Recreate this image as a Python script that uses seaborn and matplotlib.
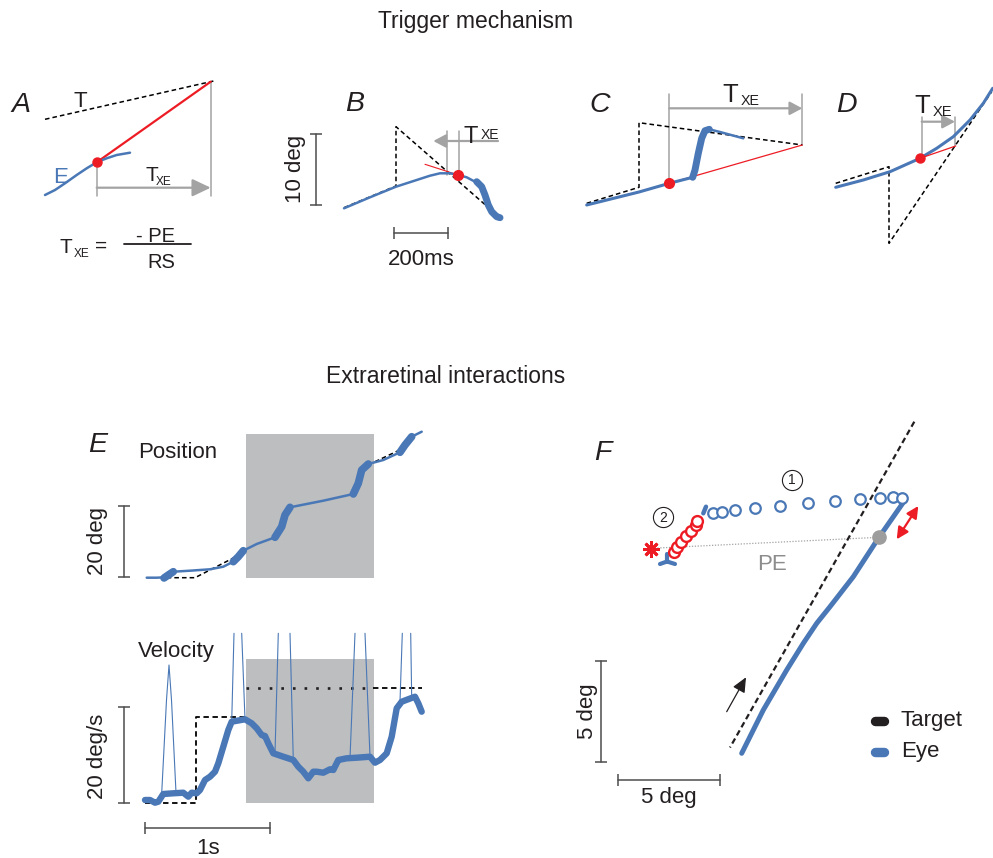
import matplotlib
matplotlib.use("Agg")
import matplotlib.pyplot as plt
from matplotlib.patches import Rectangle, ArrowStyle
import seaborn as sns

# ---------------- data (traced, figure pixel space) ----------------
# Panel A
A_target_x = [45, 215]
A_target_y = [119.3, 80.7]
A_eye_x = [45, 55, 65, 76.7, 86.7, 96.7, 106.7, 116.7, 130]
A_eye_y = [195, 190, 183.3, 175, 168.3, 162.3, 158.3, 155, 152.7]
A_pred_x = [96.7, 210.7]
A_pred_y = [162.3, 81.7]
A_trig = (96.7, 162.3)

# Panel B
B_target_x = [344, 396, 396, 500]
B_target_y = [207.7, 186, 126.7, 217.7]
B_eye_x = [344, 370, 396, 416.7, 430, 440, 450, 458.3, 466.7, 475]
B_eye_y = [208.3, 197.3, 186.7, 180, 175.7, 173.3, 173.3, 175, 177.3, 181.7]
B_sacc_x = [476.7, 481.7, 485, 488.3, 491.7, 496.7, 500]
B_sacc_y = [181.7, 186.7, 195, 205, 211.7, 216.7, 217.7]
B_pred_x = [425, 458.3]
B_pred_y = [164.3, 175]
B_trig = (458.3, 175)

# Panel C
C_target_x = [586.7, 639, 639, 802.3]
C_target_y = [203.3, 187.3, 122.7, 145]
C_eye_x = [586.7, 639, 669.3, 692.7]
C_eye_y = [205, 192, 183.3, 177.3]
C_sacc_x = [692.7, 695, 698.3, 701.7, 705, 709.3]
C_sacc_y = [177.3, 170, 153.3, 138.3, 130.7, 129.3]
C_post_x = [709.3, 720, 743.3]
C_post_y = [129.3, 132, 138.3]
C_pred_x = [669.3, 802.3]
C_pred_y = [183.3, 145]
C_trig = (669.3, 183.3)

# Panel D
D_target_x = [835.7, 889, 889, 991.7]
D_target_y = [183.3, 166.7, 243.3, 91.7]
D_eye_x = [835.7, 863.3, 890, 920, 936.7, 953.3, 970, 983.3, 992.7]
D_eye_y = [187.3, 180, 171.7, 158.3, 148.3, 136.7, 120, 103.3, 88.3]
D_pred_x = [920, 955.7]
D_pred_y = [158.3, 146]
D_trig = (920, 158.3)

# Panel E - position
shade_x = (246, 374)
E_pos_shade_y = (434, 577.7)
E_vel_shade_y = (659, 802.7)
E_pos_x = [146.7, 156.7, 165, 168.3, 173.3, 190, 210, 223.3, 233.3, 238.3, 243.3,
           256.7, 275, 281.7, 285, 290, 323.3, 353.3, 358.3, 361.7, 368.3,
           383.3, 400, 405, 411.7, 421.7]
E_pos_y = [577.7, 577.7, 577.3, 575, 571.7, 570.7, 569.3, 566.7, 561.7, 556.7, 550.7,
           544, 537.3, 526.7, 515, 507.3, 500.7, 494, 483.3, 470, 464,
           460, 452.3, 445, 436.7, 431.7]
E_pos_sacc = [([164, 168.3, 173.3], [578, 575, 571.7]),
              ([233.3, 238.3, 243.3], [561.7, 556.7, 550.7]),
              ([275, 281.7, 285, 290], [537.3, 526.7, 515, 507.3]),
              ([353.3, 358.3, 361.7, 368.3], [494, 483.3, 470, 464]),
              ([400, 405, 411.7], [452.3, 445, 436.7])]
E_pos_target = [([166.7, 195, 243], [577.7, 577.7, 553]),
                ([368, 405], [465, 447.5])]

# Panel E - velocity
E_vel_x = [145, 150, 155, 158.3, 163.3, 173.3, 183.3, 188.3, 191.7, 196.7, 200, 205, 210,
           215, 218.3, 223.3, 228.3, 231.7, 245, 251.7, 256.7, 261.7, 265, 268.3, 273.3,
           283.3, 293.3, 298.3, 303.3, 308.3, 313.3, 316.7, 323.3, 330, 333.3, 338.3,
           341.7, 346.7, 356.7, 370, 375, 380, 386.7, 391.7, 396.7, 401.7, 415, 418.3, 421.7]
E_vel_y = [800, 800, 802.7, 801.7, 794, 793.3, 792.7, 796.7, 792.7, 793.3, 790, 780, 776.7,
           771.7, 763.3, 746.7, 730, 721.7, 719.3, 723.3, 728.3, 735, 736, 743.3, 753.3,
           756.7, 760, 766.7, 771.7, 778.3, 771.7, 771.7, 772.7, 769.3, 770, 760,
           759.3, 758.3, 757.7, 756.7, 762.7, 760, 753.3, 736.7, 708.3, 701.7, 696.7, 703.3, 711.7]
E_vel_spikes = [([161.7, 166.5, 169, 171.5, 176], [793.3, 700, 665, 700, 792.7]),
                ([231.7, 234], [721.7, 633.3]), ([241.7, 245], [633.3, 719.3]),
                ([275, 278.3], [753.3, 633.3]), ([290, 293.3], [633.3, 760]),
                ([350, 355], [758.3, 633.3]), ([365, 370], [633.3, 756.7]),
                ([400, 402.3], [701.7, 633.3]), ([410.7, 411.7], [633.3, 698.3])]
E_vel_target_dash = [([145, 196, 196, 246], [802.7, 802.7, 716.7, 716.7]),
                     ([372.7, 421.7], [688.3, 688.3])]
E_vel_target_dot = ([246, 372.7], [688.3, 688.3])

# Panel F
F_target_x = [914.3, 730]
F_target_y = [421.7, 747.5]
F_eye_x = [905, 878.3, 853.3, 830, 816.7, 803.3, 786.7, 763.3, 741.7]
F_eye_y = [500, 538.3, 576.7, 606.7, 623.3, 643.3, 670, 710, 753.3]
F_blue_circ_x = [712.7, 721.7, 735, 755, 780, 807.7, 835, 860, 880, 893.3, 901.7]
F_blue_circ_y = [512.7, 511.7, 510, 507.7, 505.7, 503.3, 501, 499, 498.3, 497.3, 498.3]
F_red_circ_x = [674, 677.3, 681, 686, 691, 695.7, 697.3]
F_red_circ_y = [551.7, 546.7, 542.3, 536, 530.7, 525, 521]
F_star = (650.7, 549.3)
F_pe_x = [651.7, 879]
F_pe_y = [548.3, 537.3]
F_gray_dot = (879, 537.3)

BLUE = "#4a78b6"
RED = "#ed1c24"
GRAY = "#a3a3a3"
SHADE = "#bcbec0"
INK = "#231f20"
BAR = "#4d4d4d"

# ---------------- figure ----------------
sns.set_theme(style="white")
plt.rcParams["font.family"] = ["Liberation Sans", "DejaVu Sans"]

fig = plt.figure(figsize=(9.93, 8.58), dpi=100)
ax = fig.add_axes([0, 0, 1, 1])
ax.set_xlim(0, 993)
ax.set_ylim(858, 0)
ax.axis("off")


def curve(x, y, lw, color=BLUE, z=3, **kw):
    sns.lineplot(x=x, y=y, sort=False, estimator=None, ax=ax, color=color,
                 linewidth=lw, legend=False, zorder=z,
                 solid_capstyle="round", solid_joinstyle="round", **kw)


def dashed(x, y, lw=1.1, color="black", dashes=(3, 2), z=2):
    ax.plot(x, y, color=color, lw=lw, dashes=dashes, zorder=z)


def txt(x, y, s, size=16, color=INK, **kw):
    ax.text(x, y, s, fontsize=size, color=color, va=kw.pop("va", "baseline"),
            ha=kw.pop("ha", "left"), **kw)


def arrow(x0, y0, x1, y1, color=GRAY, lw=1.5, ms=10, hl=0.75, hw=0.4, style="-|>"):
    ax.annotate("", xy=(x1, y1), xytext=(x0, y0),
                arrowprops=dict(arrowstyle=ArrowStyle(style, head_length=hl, head_width=hw),
                                color=color, lw=lw, mutation_scale=ms,
                                shrinkA=0, shrinkB=0), zorder=4)


def txe(x, y, xs, ys, size, sub):
    txt(x, y, "T", size=size, zorder=6)
    txt(xs, ys, "XE", size=sub, zorder=6)


def vbar(x, y0, y1):
    ax.plot([x, x], [y0, y1], color=BAR, lw=1.1, marker="_", ms=8, mew=1.1, zorder=2)


def hbar(y, x0, x1):
    ax.plot([x0, x1], [y, y], color=BAR, lw=1.1, marker="|", ms=8, mew=1.1, zorder=2)


# titles
txt(476, 28, "Trigger mechanism", size=16.5, ha="center")
txt(446, 383.3, "Extraretinal interactions", size=16.5, ha="center")

# panel letters
for lx, ly, s in [(11, 111.7, "A"), (345, 110.7, "B"), (589, 111.7, "C"), (836, 111.7, "D"),
                  (88, 451.7, "E"), (594, 460, "F")]:
    txt(lx, ly, s, size=20.5, style="italic")

# ---- Panel A ----
dashed(A_target_x, A_target_y)
curve(A_pred_x, A_pred_y, 1.6, color=RED, z=3)
curve(A_eye_x, A_eye_y, 1.8)
ax.plot([A_trig[0], A_trig[0]], [A_trig[1], 196], color=GRAY, lw=1.1, zorder=1)
ax.plot([A_pred_x[1], A_pred_x[1]], [A_pred_y[1], 196], color=GRAY, lw=1.1, zorder=1)
arrow(A_trig[0], 187.7, A_pred_x[1], 187.7, lw=1.6, ms=14, hl=0.8, hw=0.38)
ax.plot(*A_trig, "o", color=RED, ms=6.5, zorder=5)
txt(74, 106.7, "T", size=16)
txt(53.5, 183.3, "E", size=16, color=BLUE)
txe(145, 180.7, 156, 185, 15, 8.5)
txe(60, 253.3, 74, 256.7, 15, 8.5)
txt(95.5, 251.5, "=", size=15)
txt(156, 241.7, "- PE", size=14.5, ha="center")
ax.plot([124, 190.7], [243.5, 243.5], color=INK, lw=1.3)
txt(161.5, 268.3, "RS", size=14.5, ha="center")

# ---- Panel B ----
dashed(B_target_x, B_target_y)
curve(B_pred_x, B_pred_y, 0.8, color=RED)
curve(B_eye_x, B_eye_y, 1.8)
curve(B_sacc_x, B_sacc_y, 5)
for gx in (446.7, 459):
    ax.plot([gx, gx], [131, 175], color=GRAY, lw=1.1, zorder=1)
arrow(498, 141, 433.3, 141, lw=1.6)
ax.plot(*B_trig, "o", color=RED, ms=7, zorder=5)
txe(464, 143.3, 480.5, 139.3, 17, 10)
vbar(316.3, 134.3, 205)
txt(296, 169, "10 deg", size=16, rotation=90, ha="center", va="center")
hbar(232.7, 394.3, 447.7)
txt(421.5, 265, "200ms", size=16, ha="center")

# ---- Panel C ----
dashed(C_target_x, C_target_y)
curve(C_pred_x, C_pred_y, 0.9, color=RED, z=2)
curve(C_eye_x, C_eye_y, 2.2)
curve(C_sacc_x, C_sacc_y, 5)
curve(C_post_x, C_post_y, 1.8)
ax.plot([669.3, 669.3], [94, 183.3], color=GRAY, lw=1.1, zorder=1)
ax.plot([802.3, 802.3], [94, 145], color=GRAY, lw=1.1, zorder=1)
arrow(669.3, 108.3, 802.3, 108.3, lw=1.6)
ax.plot(*C_trig, "o", color=RED, ms=7, zorder=5)
txe(722.5, 101.7, 741, 105, 18.5, 10.3)

# ---- Panel D ----
dashed(D_target_x, D_target_y)
curve(D_eye_x, D_eye_y, 2.2)
curve(D_pred_x, D_pred_y, 0.9, color=RED, z=4)
ax.plot([921.7, 921.7], [116.7, 158], color=GRAY, lw=1.1, zorder=1)
ax.plot([955, 955], [116.7, 146], color=GRAY, lw=1.1, zorder=1)
arrow(921.7, 121.7, 955, 121.7, lw=1.6)
ax.plot(*D_trig, "o", color=RED, ms=6.5, zorder=5)
txe(914.5, 112.7, 932.5, 115.5, 18.5, 10.5)

# ---- Panel E position ----
ax.add_patch(Rectangle((shade_x[0], E_pos_shade_y[0]), shade_x[1] - shade_x[0],
                       E_pos_shade_y[1] - E_pos_shade_y[0], color=SHADE, lw=0, zorder=0))
for tx, ty in E_pos_target:
    dashed(tx, ty, z=1)
curve(E_pos_x, E_pos_y, 1.8)
for sx, sy in E_pos_sacc:
    curve(sx, sy, 5.5)
txt(137.7, 458.3, "Position", size=16)
vbar(124.3, 506, 576.7)
txt(98, 541, "20 deg", size=16, rotation=90, ha="center", va="center")

# ---- Panel E velocity ----
ax.add_patch(Rectangle((shade_x[0], E_vel_shade_y[0]), shade_x[1] - shade_x[0],
                       E_vel_shade_y[1] - E_vel_shade_y[0], color=SHADE, lw=0, zorder=0))
for tx, ty in E_vel_target_dash:
    dashed(tx, ty, lw=1.3, z=1)
ax.plot(*E_vel_target_dot, color=INK, lw=1.9, dashes=(1, 3.4), zorder=1)
for sx, sy in E_vel_spikes:
    ax.plot(sx, sy, color=BLUE, lw=0.8, zorder=2)
curve(E_vel_x, E_vel_y, 4.6)
txt(137.7, 656.7, "Velocity", size=16)
vbar(124.3, 707.3, 802.7)
txt(98, 756, "20 deg/s", size=16, rotation=90, ha="center", va="center")
hbar(828.3, 145, 270.3)
txt(208.5, 853.5, "1s", size=16, ha="center")

# ---- Panel F ----
ax.plot(F_target_x, F_target_y, color=INK, lw=1.6, dashes=(2.6, 1.6), zorder=2)
curve(F_eye_x, F_eye_y, 3.6)
ax.plot([F_eye_x[0], F_blue_circ_x[-1]], [F_eye_y[0], F_blue_circ_y[-1]],
        color=BLUE, lw=3.2, solid_capstyle="round", zorder=3)
ax.plot(F_pe_x, F_pe_y, color=GRAY, lw=0.9, dashes=(1, 1.3), zorder=1)
ax.plot(F_blue_circ_x, F_blue_circ_y, "o", ms=7.6, mfc="white", mec=BLUE, mew=1.6,
        linestyle="none", zorder=4)
ax.plot(F_red_circ_x, F_red_circ_y, "o", ms=7.8, mfc="white", mec=RED, mew=1.7,
        linestyle="none", zorder=4)
ax.plot([703.3, 706], [513.3, 506.7], color=BLUE, lw=3.2, solid_capstyle="round", zorder=3)
ax.plot([660, 667, 675], [564, 561.5, 564], color=BLUE, lw=3, solid_capstyle="round", zorder=3)
ax.plot([667, 667], [553.5, 562], color=BLUE, lw=3, solid_capstyle="round", zorder=3)
ax.plot(*F_star, marker=(8, 2, 0), color=RED, ms=12, mew=2, zorder=5)
ax.plot(*F_gray_dot, "o", color="#9d9d9d", ms=9.5, zorder=5)
txt(771.7, 570, "PE", size=16, color="#8c8c8c", ha="center")
arrow(896.7, 539.3, 918.3, 506, color=RED, lw=1.6, ms=7, hl=1.0, hw=0.5, style="<|-|>")
arrow(726.7, 711.7, 746, 677.3, color=INK, lw=0.9, ms=9, hl=1.0, hw=0.45)
for cx, cy, s in [(791.7, 480, "1"), (662.7, 517.3, "2")]:
    ax.plot(cx, cy, "o", ms=14.5, mfc="white", mec=INK, mew=0.8, zorder=5)
    ax.text(cx, cy + 0.5, s, fontsize=10, color=INK, ha="center", va="center", zorder=6)
vbar(601, 660.7, 762.3)
txt(587, 711, "5 deg", size=16, rotation=90, ha="center", va="center")
hbar(780, 618.3, 720)
txt(669.3, 803.3, "5 deg", size=16, ha="center")
# legend
ax.plot([874.5, 883.8], [720.7, 720.7], color=INK, lw=6.8, solid_capstyle="round")
ax.plot([874.5, 883.8], [751.7, 751.7], color=BLUE, lw=6.8, solid_capstyle="round")
txt(900.7, 726, "Target", size=16)
txt(900.7, 756.7, "Eye", size=16)

fig.savefig("out.png", dpi=100)
